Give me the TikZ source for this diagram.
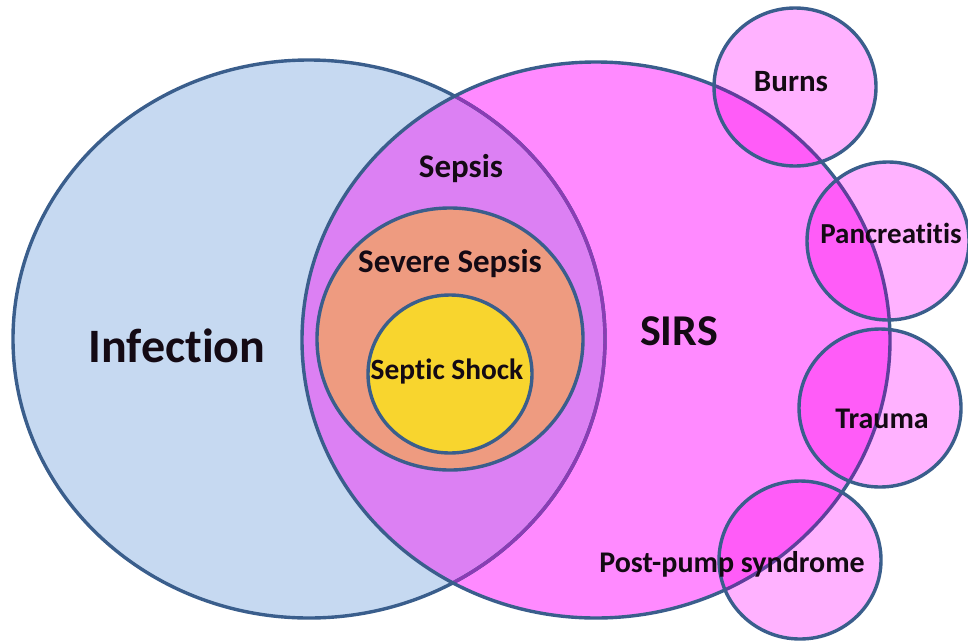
\documentclass[tikz,border=0pt]{standalone}
\usepackage{fontspec}
\setmainfont{Carlito}[Ligatures=NoCommon]
\definecolor{edge}{HTML}{3A5E8C}
\definecolor{infect}{HTML}{C6D9F1}
\definecolor{sirs}{HTML}{FF8AFF}
\definecolor{lens}{HTML}{DC80F3}
\definecolor{lensedge}{HTML}{8A3DB4}
\definecolor{severe}{HTML}{EE9B80}
\definecolor{shock}{HTML}{F8D52E}
\definecolor{cause}{HTML}{FFB2FF}
\definecolor{causeover}{HTML}{FF5CF8}
\definecolor{causeedge}{HTML}{5E3F9C}
\definecolor{ink}{HTML}{140A14}
% the two big sets
\def\infpath{(309,339) ellipse [x radius=296, y radius=279]}
\def\sirspath{(596,340) ellipse [x radius=294, y radius=278]}
\begin{document}
\begin{tikzpicture}[x=0.5pt,y=-0.5pt,line width=1.7pt,
  lbl/.style={font=\bfseries, text=ink, inner sep=0pt, anchor=base}]
\useasboundingbox (0,0) rectangle (968,643);
% Infection and SIRS
\fill[infect] \infpath;
\fill[sirs] \sirspath;
% Sepsis = Infection and SIRS
\begin{scope}
  \clip \infpath;
  \fill[lens] \sirspath;
\end{scope}
\draw[edge] \infpath;
\begin{scope}
  \clip \sirspath;
  \draw[lensedge] \infpath;
\end{scope}
\draw[edge] \sirspath;
% Severe sepsis and septic shock
\draw[edge, fill=severe] (450,339) ellipse [x radius=133, y radius=131];
\draw[edge, fill=shock] (450,374) ellipse [x radius=82, y radius=79];
% non-infectious causes of SIRS
\foreach \cx/\cy in {795/87, 888/241, 880/408, 800/560}{
  \fill[cause] (\cx,\cy) ellipse [x radius=81, y radius=79];
  \begin{scope}
    \clip (\cx,\cy) ellipse [x radius=81, y radius=79];
    \fill[causeover] \sirspath;
    \draw[causeedge] \sirspath;
  \end{scope}
  \draw[edge] (\cx,\cy) ellipse [x radius=81, y radius=79];
}
% labels
\node[lbl, font=\bfseries\fontsize{24}{28}\selectfont] (infection) at (177,362) {Infection};
\node[lbl, font=\bfseries\fontsize{22}{26}\selectfont] (sirs) at (679,345) {SIRS};
\node[lbl, font=\bfseries\fontsize{16.5}{20}\selectfont] (sepsis) at (461,177) {Sepsis};
\node[lbl, font=\bfseries\fontsize{16.5}{20}\selectfont] (severe) at (450,272) {Severe Sepsis};
\node[lbl, font=\bfseries\fontsize{14.7}{18}\selectfont] (shock) at (447,379) {Septic Shock};
\node[lbl, font=\bfseries\fontsize{15.5}{19}\selectfont] (burns) at (791,91) {Burns};
\node[lbl, font=\bfseries\fontsize{14.5}{18}\selectfont] (pancreatitis) at (891,243) {Pancreatitis};
\node[lbl, font=\bfseries\fontsize{15}{18}\selectfont] (trauma) at (882,428) {Trauma};
\node[lbl, font=\bfseries\fontsize{15}{18}\selectfont] (postpump) at (732,572) {Post-pump syndrome};
\end{tikzpicture}
\end{document}
